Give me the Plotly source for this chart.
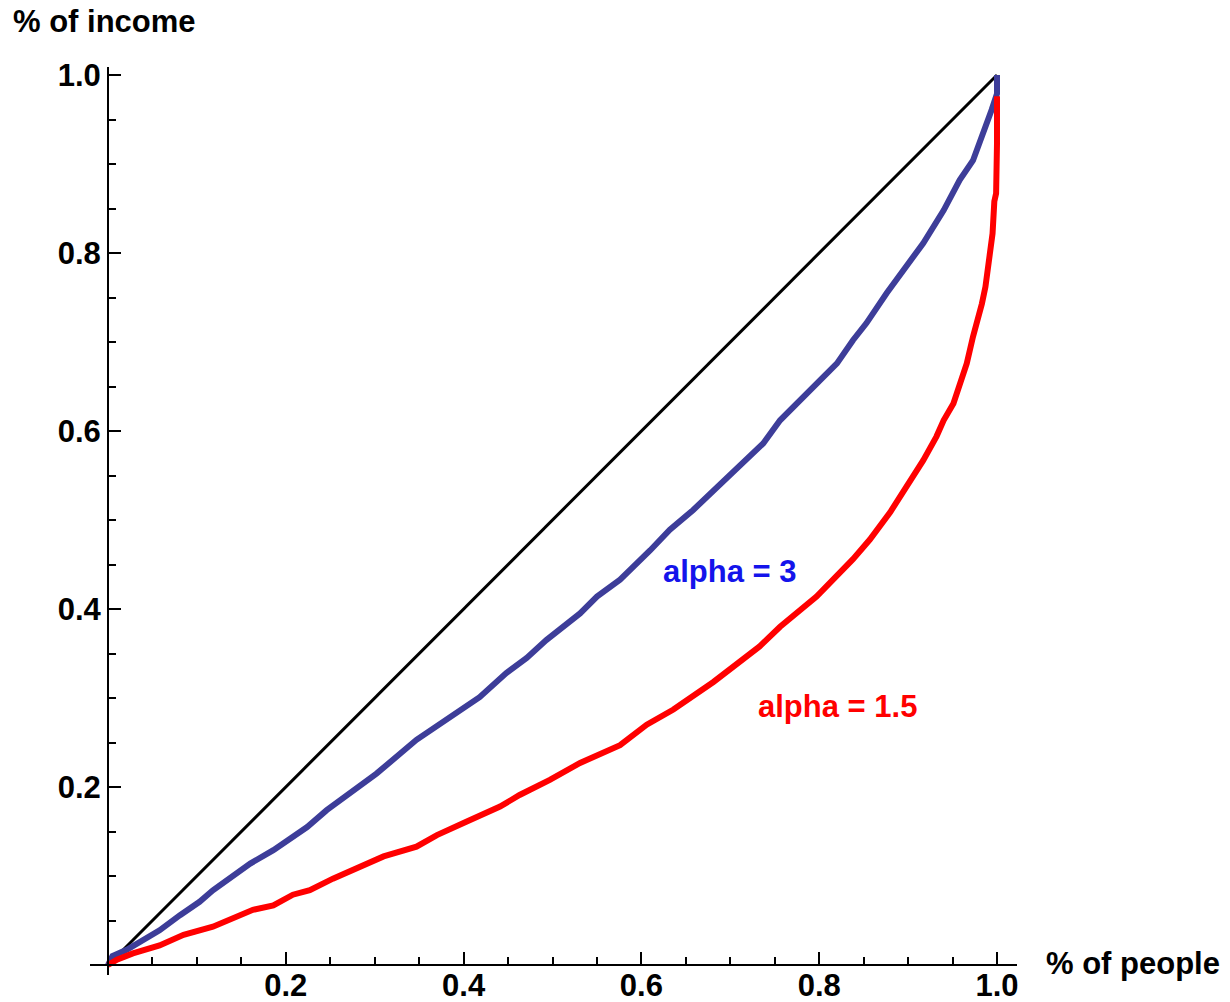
import plotly.graph_objects as go

# ---- data ----
equal_x = [0.0, 1.0]
equal_y = [0.0, 1.0]

blue_x = [0, 0.005, 0.021, 0.058, 0.081, 0.103, 0.118, 0.160, 0.186, 0.224, 0.246, 0.302,
          0.347, 0.388, 0.418, 0.448, 0.471, 0.493, 0.531, 0.550, 0.576, 0.610, 0.632,
          0.658, 0.700, 0.737, 0.756, 0.775, 0.801, 0.820, 0.838, 0.853, 0.876, 0.917,
          0.940, 0.958, 0.973, 0.985, 0.994, 1.0, 1.0]
blue_y = [0, 0.010, 0.017, 0.039, 0.056, 0.071, 0.084, 0.114, 0.129, 0.155, 0.174, 0.215,
          0.253, 0.281, 0.301, 0.328, 0.345, 0.365, 0.395, 0.414, 0.433, 0.466, 0.489,
          0.511, 0.552, 0.586, 0.612, 0.631, 0.657, 0.676, 0.702, 0.721, 0.755, 0.811,
          0.848, 0.882, 0.904, 0.934, 0.961, 0.979, 1.0]

red_x = [0, 0.010, 0.028, 0.058, 0.085, 0.118, 0.163, 0.186, 0.208, 0.227, 0.253, 0.310,
         0.347, 0.370, 0.403, 0.441, 0.463, 0.497, 0.531, 0.576, 0.606, 0.636, 0.681,
         0.733, 0.756, 0.797, 0.838, 0.857, 0.880, 0.898, 0.917, 0.932, 0.940, 0.951,
         0.960, 0.966, 0.973, 0.979, 0.983, 0.987, 0.990, 0.993, 0.995, 0.997, 0.999,
         1.0, 1.0]
red_y = [0, 0.006, 0.013, 0.022, 0.034, 0.043, 0.062, 0.067, 0.079, 0.084, 0.097, 0.122,
         0.133, 0.146, 0.161, 0.178, 0.191, 0.208, 0.227, 0.247, 0.270, 0.287, 0.318,
         0.358, 0.380, 0.414, 0.456, 0.478, 0.509, 0.537, 0.567, 0.594, 0.612, 0.631,
         0.657, 0.676, 0.706, 0.725, 0.743, 0.762, 0.781, 0.800, 0.822, 0.858, 0.867,
         0.923, 0.976]

major_ticks = [0.2, 0.4, 0.6, 0.8, 1.0]
major_labels = ["0.2", "0.4", "0.6", "0.8", "1.0"]
minor_ticks = [0.05, 0.1, 0.15, 0.25, 0.3, 0.35, 0.45, 0.5, 0.55, 0.65, 0.7, 0.75,
               0.85, 0.9, 0.95]

labels = ["alpha = 3", "alpha = 1.5"]
label_x = [0.70, 0.821]
label_y = [0.4416, 0.29]
label_colors = ["rgb(20,20,235)", "rgb(255,0,0)"]

# ---- figure ----
FONT = "Liberation Sans, Arial, Helvetica, sans-serif"
FS = 31
fig = go.Figure()
fig.add_trace(go.Scatter(x=equal_x, y=equal_y, mode="lines",
                         line=dict(color="black", width=3), showlegend=False))
fig.add_trace(go.Scatter(x=blue_x, y=blue_y, mode="lines",
                         line=dict(color="rgb(61,61,153)", width=6), showlegend=False))
fig.add_trace(go.Scatter(x=red_x, y=red_y, mode="lines",
                         line=dict(color="rgb(255,0,0)", width=6), showlegend=False))

OFF = 8  # page body margin
W, H = 1230 - OFF, 1002 - OFF
L, R, T, B = 90 - OFF, 1017 - OFF, 67 - OFF, 975 - OFF  # plot area pixels
x0px, x1px = 108 - OFF, 997 - OFF
y0px, y1px = 965 - OFF, 75 - OFF
xs = (x1px - x0px)
ys = (y0px - y1px)
xrange_ = [(L - x0px) / xs, (R - x0px) / xs]
yrange_ = [(y0px - B) / ys, (y0px - T) / ys]

tickfont = dict(family=FONT, size=FS, color="black", weight="bold")

fig.update_layout(
    width=W, height=H,
    margin=dict(l=L, r=W - R, t=T, b=H - B),
    plot_bgcolor="white", paper_bgcolor="white",
    xaxis=dict(range=xrange_, showgrid=False, zeroline=False, automargin=False,
               showline=True, linecolor="black", linewidth=2,
               anchor="free", position=(B - y0px) / (B - T),
               tickmode="array", tickvals=major_ticks, ticktext=major_labels,
               ticks="inside", ticklen=12, tickwidth=2, tickcolor="black",
               tickfont=tickfont, ticklabelstandoff=-7,
               minor=dict(tickmode="array", tickvals=minor_ticks, ticks="inside",
                          ticklen=7, tickwidth=2, tickcolor="black", showgrid=False)),
    yaxis=dict(range=yrange_, showgrid=False, zeroline=False, automargin=False,
               showline=True, linecolor="black", linewidth=2,
               anchor="free", position=(x0px - L) / (R - L),
               tickmode="array", tickvals=major_ticks, ticktext=major_labels,
               ticks="inside", ticklen=12, tickwidth=2, tickcolor="black",
               tickfont=tickfont,
               minor=dict(tickmode="array", tickvals=minor_ticks, ticks="inside",
                          ticklen=7, tickwidth=2, tickcolor="black", showgrid=False)),
)

for t, lx, ly, c in zip(labels, label_x, label_y, label_colors):
    fig.add_annotation(x=lx, y=ly, xref="x", yref="y", text=t, showarrow=False,
                       xanchor="center", yanchor="middle",
                       font=dict(family=FONT, size=FS, color=c, weight="bold"))

fig.add_annotation(x=(11 - OFF - L) / (R - L), y=(B - (22 - OFF)) / (B - T),
                   xref="paper", yref="paper",
                   text="% of income", showarrow=False, xanchor="left", yanchor="middle",
                   font=dict(family=FONT, size=FS, color="black", weight="bold"))
fig.add_annotation(x=(1044 - OFF - L) / (R - L), y=(B - (963 - OFF)) / (B - T),
                   xref="paper", yref="paper",
                   text="% of people", showarrow=False, xanchor="left", yanchor="middle",
                   font=dict(family=FONT, size=FS, color="black", weight="bold"))

fig.write_html("out.html")
